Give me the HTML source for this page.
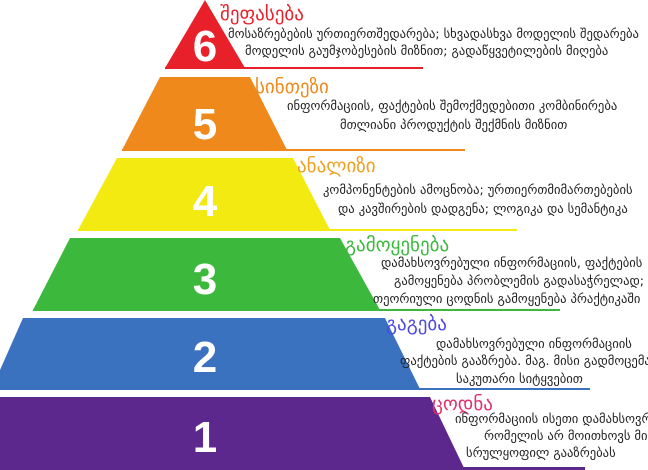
<!DOCTYPE html>
<html><head><meta charset="utf-8"><style>
html,body{margin:0;padding:0;background:#fff;}
svg{display:block}
text{font-family:"DejaVu Sans","Liberation Sans",sans-serif;}
.n{fill:#fff;font-weight:bold;font-size:44px;text-anchor:middle;font-family:"Liberation Sans",sans-serif}
.t{font-size:19px}
.d{font-size:12.6px;fill:#222}
</style></head><body>
<svg width="648" height="470" viewBox="0 0 648 470" xmlns="http://www.w3.org/2000/svg">
<polygon points="205,0 245,68 165,68" fill="#e8202a"/>
<rect x="165" y="67" width="258" height="2" fill="#e8202a"/>
<polygon points="160,77 250,77 287,150 122,150" fill="#f0891c"/>
<rect x="122" y="149" width="343" height="2" fill="#f0891c"/>
<polygon points="117,158 293,158 330,230 78,230" fill="#f2ea10"/>
<rect x="78" y="229" width="439" height="2" fill="#f2ea10"/>
<polygon points="70,238 340,238 380,310 33,310" fill="#3cb93c"/>
<rect x="33" y="309" width="527" height="2" fill="#3cb93c"/>
<polygon points="23,318 385,318 420,389 0,389 0,370" fill="#3a72c0"/>
<rect x="0" y="388" width="590" height="2" fill="#3a72c0"/>
<polygon points="0,397 430,397 465,470 0,470" fill="#5c288e"/>
<rect x="0" y="467" width="585" height="3" fill="#5c288e"/>
<text class="n" x="205" y="61">6</text>
<text class="n" x="205" y="139">5</text>
<text class="n" x="205" y="216">4</text>
<text class="n" x="205" y="294">3</text>
<text class="n" x="205" y="372">2</text>
<text class="n" x="205" y="452">1</text>
<text class="t" x="220" y="20" fill="#e8202a">შეფასება</text>
<text class="d" x="228" y="38">მოსაზრებების ურთიერთშედარება; სხვადასხვა მოდელის შედარება</text>
<text class="d" x="245" y="55">მოდელის გაუმჯობესების მიზნით;  გადაწყვეტილების მიღება</text>
<text class="t" x="255" y="93" fill="#f0891c">სინთეზი</text>
<text class="d" x="287" y="110">ინფორმაციის, ფაქტების შემოქმედებითი კომბინირება</text>
<text class="d" x="340" y="129">მთლიანი პროდუქტის შექმნის მიზნით</text>
<text class="t" x="297" y="172" fill="#f0a020">ანალიზი</text>
<text class="d" x="323" y="194">კომპონენტების ამოცნობა; ურთიერთმიმართებების</text>
<text class="d" x="338" y="213">და კავშირების დადგენა; ლოგიკა და სემანტიკა</text>
<text class="t" x="345" y="251" fill="#3cb93c">გამოყენება</text>
<text class="d" x="381" y="267">დამახსოვრებული ინფორმაციის, ფაქტების</text>
<text class="d" x="394" y="285">გამოყენება პრობლემის გადასაჭრელად;</text>
<text class="d" x="373" y="303">თეორიული ცოდნის გამოყენება პრაქტიკაში</text>
<text class="t" x="386" y="330" fill="#4a4ae0">გაგება</text>
<text class="d" x="436" y="348">დამახსოვრებული ინფორმაციის</text>
<text class="d" x="400" y="365">ფაქტების გააზრება.  მაგ. მისი გადმოცემა</text>
<text class="d" x="456" y="383">საკუთარი სიტყვებით</text>
<text class="t" x="432" y="410" fill="#e0306a">ცოდნა</text>
<text class="d" x="455" y="423">ინფორმაციის ისეთი დამახსოვრება,</text>
<text class="d" x="484" y="440">რომელის არ მოითხოვს მის</text>
<text class="d" x="466" y="457">სრულყოფილ გააზრებას</text>
</svg>
</body></html>
